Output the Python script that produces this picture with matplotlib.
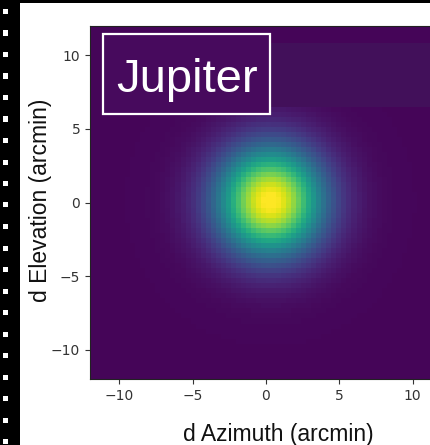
import numpy as np
import matplotlib
matplotlib.use("Agg")
import matplotlib.pyplot as plt
from matplotlib.patches import Rectangle

# ---- data (beam map model) ----
source_name = "Jupiter"
map_extent = [-12, 12, -12, 12]        # arcmin
n_pix = 70
beam_center = (0.3, 0.1)               # arcmin (az, el)
beam_sigma = 2.6                        # arcmin
beam_peak = 1.0
background_level = 0.015
xticks = [-10, -5, 0, 5, 10]
yticks = [-10, -5, 0, 5, 10]
xlabel = "d Azimuth (arcmin)"
ylabel = "d Elevation (arcmin)"

W, H = 431, 445
fig = plt.figure(figsize=(W / 100, H / 100), dpi=100)
fig.patch.set_facecolor("white")

ax = fig.add_axes([90 / W, 66 / H, 352 / W, 353 / H])
xs = np.linspace(map_extent[0], map_extent[1], n_pix)
ys = np.linspace(map_extent[2], map_extent[3], n_pix)
X, Y = np.meshgrid(xs, ys)
Z = background_level + beam_peak * np.exp(
    -((X - beam_center[0]) ** 2 + (Y - beam_center[1]) ** 2) / (2 * beam_sigma ** 2))
ax.imshow(Z, extent=map_extent, origin="lower", cmap="viridis",
          vmin=0, vmax=beam_peak, aspect="auto", interpolation="nearest")
ax.set_xlim(map_extent[0], map_extent[1])
ax.set_ylim(map_extent[2], map_extent[3])
ax.set_xticks(xticks)
ax.set_yticks(yticks)
ax.tick_params(labelsize=10, labelcolor="#333333", color="#333333")
for s in ax.spines.values():
    s.set_color("#222222")

# axis labels (slide font)
fig.text(278 / W, 1 - 434.5 / H, xlabel, family="Liberation Sans", fontsize=16.5,
         ha="center", va="center", color="#111111")
fig.text(41 / W, 1 - 200 / H, ylabel, family="Liberation Sans", fontsize=16.5,
         ha="center", va="center", rotation=90, color="#111111")

# darker band at top right
fig.patches.append(Rectangle((271 / W, 1 - 107 / H), (W - 271) / W, 64 / H,
                             transform=fig.transFigure, facecolor="#42105a",
                             edgecolor="none", zorder=5))
# Jupiter label box
fig.patches.append(Rectangle((103 / W, 1 - 114 / H), 167 / W, 80 / H,
                             transform=fig.transFigure, facecolor="#470a5d",
                             edgecolor="white", linewidth=1.6, zorder=6))
fig.text(187.5 / W, 1 - 92 / H, source_name, family="Liberation Sans",
         fontsize=34, color="white", ha="center", va="baseline", zorder=7)

# film-strip border
fig.patches.append(Rectangle((0, 0), 20 / W, 1, transform=fig.transFigure,
                             facecolor="black", edgecolor="none", zorder=8))
fig.patches.append(Rectangle((0, 1 - 3 / H), 1, 3 / H, transform=fig.transFigure,
                             facecolor="black", edgecolor="none", zorder=8))
for k in range(21):
    y0 = 9 + 21.5 * k
    fig.patches.append(Rectangle((3 / W, 1 - (y0 + 5) / H), 5 / W, 5 / H,
                                 transform=fig.transFigure, facecolor="white",
                                 edgecolor="none", zorder=9))

fig.savefig("out.png", dpi=100)
